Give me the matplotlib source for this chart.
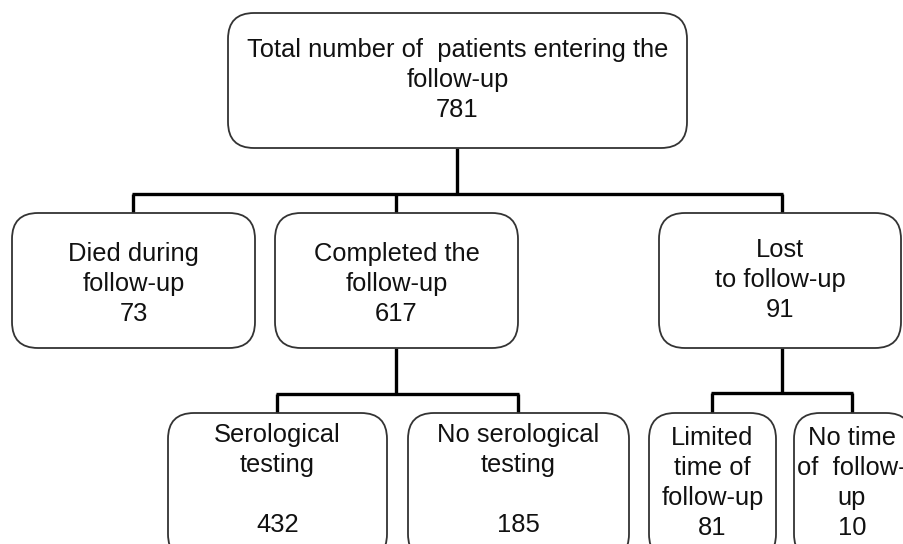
import matplotlib
matplotlib.use("Agg")
from matplotlib import pyplot as plt
from matplotlib.patches import FancyBboxPatch

# -*- coding: utf-8 -*-
'''
    FLOW CHART - follow-up of patients
'''

labels = ["Total number of  patients entering the\nfollow-up",
          "Died during\nfollow-up",
          "Completed the\nfollow-up",
          "Lost\nto follow-up",
          "Serological\ntesting\n",
          "No serological\ntesting\n",
          "Limited\ntime of\nfollow-up",
          "No time\nof  follow-\nup"]
counts = [781, 73, 617, 91, 432, 185, 81, 10]

# box geometry in pixels: left, top, right, bottom
boxes = [(228, 13, 687, 148),
         (12, 213, 255, 348),
         (275, 213, 518, 348),
         (659, 213, 901, 348),
         (168, 413, 387, 560),
         (408, 413, 629, 560),
         (649, 413, 776, 560),
         (794, 413, 912, 560)]
text_y = [80, 284, 284, 280, 480, 480, 483, 483]
text_x_shift = [0, 0, 0, 0, 0, 0, 0, -1]

# connectors: parent -> children, y of horizontal bar
links = [(0, [1, 2, 3], 194),
         (2, [4, 5], 394),
         (3, [6, 7], 393)]

fig = plt.figure(figsize=(9.04, 5.44), dpi=100)
ax = fig.add_axes([0, 0, 1, 1])
ax.set_xlim(0, 904)
ax.set_ylim(544, 0)
ax.axis('off')

for (l, t, r, b) in boxes:
    ax.add_patch(FancyBboxPatch((l, t), r - l, b - t,
                                boxstyle="round,pad=0,rounding_size=26",
                                fc='white', ec='#333333', lw=1.3, zorder=2))

cx = [(l + r) / 2 for (l, t, r, b) in boxes]
cx[3] = 782
cx[7] = 852

for parent, kids, ybar in links:
    px = cx[parent]
    ax.plot([px, px], [boxes[parent][3], ybar], color='black', lw=2.4,
            solid_capstyle='butt', zorder=1)
    xs = [cx[k] for k in kids]
    ax.plot([min(xs) - 1, max(xs) + 1], [ybar, ybar], color='black', lw=2.4,
            solid_capstyle='butt', zorder=1)
    for k in kids:
        ax.plot([cx[k], cx[k]], [ybar, boxes[k][1]], color='black', lw=2.4,
                solid_capstyle='butt', zorder=1)

for i, (lab, n) in enumerate(zip(labels, counts)):
    l, t, r, b = boxes[i]
    ax.text((l + r) / 2 + text_x_shift[i], text_y[i], lab + "\n" + str(n),
            ha='center', va='center', fontsize=18.4, family='Liberation Sans',
            color='#111111', linespacing=1.3, zorder=3)

plt.savefig('out.png', dpi=100)
